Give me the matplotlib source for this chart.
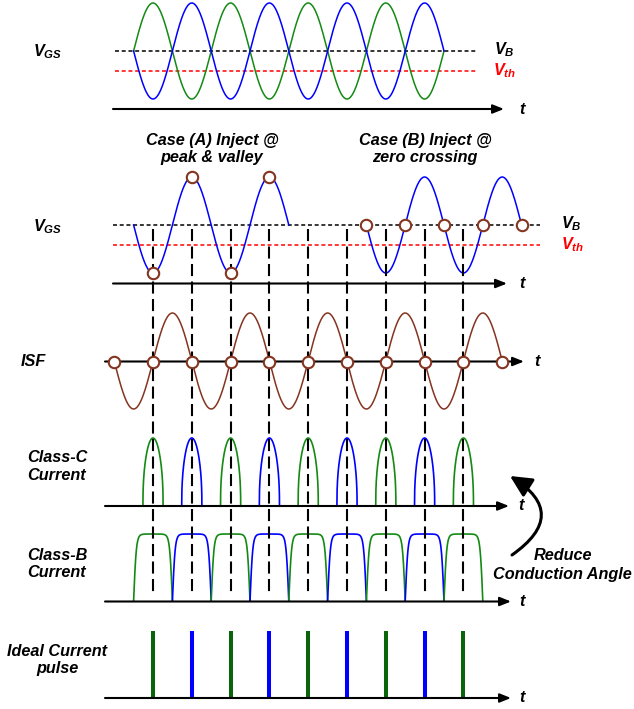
import numpy as np
import matplotlib.pyplot as plt
from matplotlib.patches import FancyArrowPatch

plt.rcParams['font.family'] = ['Liberation Sans', 'DejaVu Sans']
plt.rcParams['mathtext.fontset'] = 'custom'
plt.rcParams['mathtext.it'] = 'Liberation Sans:italic:bold'
plt.rcParams['mathtext.rm'] = 'Liberation Sans:italic:bold'
plt.rcParams['mathtext.bf'] = 'Liberation Sans:italic:bold'

# time is counted in half periods of the carrier
top_span = (0, 8)
case_a_span = (0, 4)
case_b_span = (6, 10)
case_a_marks = [0.5, 1.5, 2.5, 3.5]
case_b_marks = [6, 7, 8, 9, 10]
isf_span = (-0.5, 9.5)
isf_marks = [-0.5, 0.5, 1.5, 2.5, 3.5, 4.5, 5.5, 6.5, 7.5, 8.5, 9.5]
pulse_centers = [0.5, 1.5, 2.5, 3.5, 4.5, 5.5, 6.5, 7.5, 8.5]
pulse_phase = ['g', 'b', 'g', 'b', 'g', 'b', 'g', 'b', 'g']
classc_halfwidth = 0.26

GREEN = '#138a13'
DKGREEN = '#0a640a'
BLUE = '#0000ff'
RED = '#ff0000'
BROWN = '#84341f'
col = {'g': GREEN, 'b': BLUE}
icol = {'g': DKGREEN, 'b': BLUE}

X0, HP = 133.6, 38.8


def px(t):
    return X0 + HP * np.asarray(t, dtype=float)


fig = plt.figure(figsize=(6.34, 7.09), dpi=100)
ax = fig.add_axes([0, 0, 1, 1])
ax.set_xlim(0, 634)
ax.set_ylim(709, 0)
ax.axis('off')

FS = 11.7
lab = dict(fontsize=FS, fontweight='bold', fontstyle='italic', color='black')


def axis_arrow(x1, x2, y, tx):
    ax.annotate('', xy=(x2, y), xytext=(x1, y),
                arrowprops=dict(arrowstyle='-|>,head_length=0.55,head_width=0.22',
                                lw=1.5, color='black', mutation_scale=12,
                                shrinkA=0, shrinkB=0), zorder=4)
    ax.text(tx, y, 't', ha='center', va='center', **lab)


def hdash(x1, x2, y, c):
    ax.plot([x1, x2], [y, y], color=c, lw=1.1, ls=(0, (2.6, 1.8)), zorder=2)


def circles(xs, ys):
    ax.plot(xs, ys, 'o', ms=8.2, mfc='white', mec=BROWN, mew=1.5, zorder=6)


# ---- top: two antiphase gate drives
t = np.linspace(*top_span, 800)
ax.plot(px(t), 51 - 48 * np.sin(np.pi * t), color=GREEN, lw=1.1, zorder=3)
ax.plot(px(t), 51 + 48 * np.sin(np.pi * t), color=BLUE, lw=1.1, zorder=3)
hdash(115, 478, 51, 'black')
hdash(115, 478, 71, RED)
axis_arrow(113, 504, 109, 522)
ax.text(33, 52, r'$V_{GS}$', ha='left', va='center', fontsize=FS)
ax.text(494, 50, r'$V_B$', ha='left', va='center', fontsize=FS)
ax.text(493, 71, r'$V_{th}$', ha='left', va='center', fontsize=FS, color=RED)

# ---- injection cases
ax.text(212, 148.8, 'Case (A) Inject @\npeak & valley', ha='center', va='center',
        linespacing=1.15, **lab)
ax.text(425, 148.8, 'Case (B) Inject @\nzero crossing', ha='center', va='center',
        linespacing=1.15, **lab)
ta = np.linspace(*case_a_span, 400)
ax.plot(px(ta), 225 + 48 * np.sin(np.pi * ta), color=BLUE, lw=1.1, zorder=3)
tb = np.linspace(*case_b_span, 400)
ax.plot(px(tb), 225 + 48 * np.sin(np.pi * tb), color=BLUE, lw=1.1, zorder=3)
hdash(113, 540, 225, 'black')
hdash(113, 540, 245, RED)
axis_arrow(113, 507, 283.5, 522)
circles(px(case_a_marks), 225 + 48 * np.sin(np.pi * np.array(case_a_marks)))
circles(px(case_b_marks), 225 + 48 * np.sin(np.pi * np.array(case_b_marks)))
ax.text(33, 227, r'$V_{GS}$', ha='left', va='center', fontsize=FS)
ax.text(561, 224, r'$V_B$', ha='left', va='center', fontsize=FS)
ax.text(561, 245, r'$V_{th}$', ha='left', va='center', fontsize=FS, color=RED)

# ---- impulse sensitivity function
ti = np.linspace(*isf_span, 800)
ax.plot(px(ti), 361 + 48 * np.cos(np.pi * ti), color=BROWN, lw=1.1, zorder=3)
axis_arrow(105, 524, 361.5, 537)
circles(px(isf_marks), np.full(len(isf_marks), 361.5))
ax.text(33, 361, 'ISF', ha='center', va='center', **lab)

# ---- sampling instants
ax.vlines(px(pulse_centers), 229, 596, colors='black', lw=1.5,
          linestyles=(0, (5.8, 2.6)), zorder=5)

# ---- class-C current
for c, p in zip(pulse_centers, pulse_phase):
    u = np.linspace(-classc_halfwidth, classc_halfwidth, 300)
    h = np.cos(np.pi * u / (2 * classc_halfwidth)).clip(0) ** 0.42
    ax.plot(px(c + u), 506 - 68 * h, color=col[p], lw=1.2, zorder=3)
axis_arrow(105, 509, 506, 521)
ax.text(57, 466.5, 'Class-C\nCurrent', ha='center', va='center', **lab)

# ---- class-B current
for c, p in zip(pulse_centers, pulse_phase):
    u = np.linspace(0, 1, 300)
    h = np.tanh(4.5 * np.sin(np.pi * u)) / np.tanh(4.5)
    ax.plot(px(c - 0.5 + u), 601 - 67 * h, color=col[p], lw=1.2, zorder=3)
axis_arrow(105, 511, 601.5, 522)
ax.text(57, 564, 'Class-B\nCurrent', ha='center', va='center', **lab)

# conduction angle arrow
ax.add_patch(FancyArrowPatch((512, 555), (510, 476),
                             connectionstyle='arc3,rad=0.75',
                             arrowstyle='-|>,head_length=0.65,head_width=0.32',
                             mutation_scale=20, lw=2.2, color='black',
                             shrinkA=0, shrinkB=0, zorder=4))
ax.text(563, 555, 'Reduce', ha='center', va='center', **lab)
ax.text(562, 574, 'Conduction Angle', ha='center', va='center', **lab)

# ---- ideal current pulses
for c, p in zip(pulse_centers, pulse_phase):
    ax.plot([px(c), px(c)], [698, 631], color=icol[p], lw=2.9,
            solid_capstyle='butt', zorder=3)
axis_arrow(105, 511, 698, 522)
ax.text(57, 660, 'Ideal Current\npulse', ha='center', va='center', **lab)

fig.savefig('out.png', dpi=100)
